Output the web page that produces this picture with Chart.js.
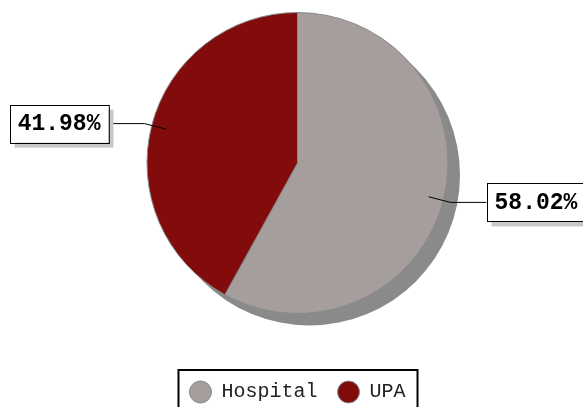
<!DOCTYPE html>
<html>
<head>
<meta charset="utf-8">
<script src="https://cdn.jsdelivr.net/npm/chart.js@4/dist/chart.umd.min.js"></script>
<style>
html, body { margin: 0; padding: 0; background: #fff; }
</style>
</head>
<body>
<canvas id="pie" width="583" height="407"></canvas>
<script>
var labels = ["Hospital", "UPA"];
var values = [58.02, 41.98];
var colors = ["#a59e9d", "#820b0b"];

var monoFont = "'Liberation Mono', 'Courier New', monospace";

// grey disc behind the pie, offset down-right
var pieShadow = {
  id: 'pieShadow',
  beforeDatasetsDraw: function(chart) {
    var arc = chart.getDatasetMeta(0).data[0];
    if (!arc) return;
    var ctx = chart.ctx;
    ctx.save();
    ctx.fillStyle = '#8a8a8a';
    ctx.beginPath();
    ctx.arc(arc.x + 12, arc.y + 12, arc.outerRadius, 0, Math.PI * 2);
    ctx.fill();
    ctx.restore();
  }
};

// percentage boxes with leader lines
var callouts = {
  id: 'callouts',
  afterDatasetsDraw: function(chart) {
    var ctx = chart.ctx;
    var meta = chart.getDatasetMeta(0);
    ctx.save();
    ctx.font = 'bold 23px ' + monoFont;
    ctx.textBaseline = 'middle';
    meta.data.forEach(function(arc, i) {
      var mid = (arc.startAngle + arc.endAngle) / 2;
      var r = arc.outerRadius;
      var x0 = arc.x + Math.cos(mid) * r * 0.9;
      var y0 = arc.y + Math.sin(mid) * r * 0.9;
      var x1 = arc.x + Math.cos(mid) * r * 1.05;
      var y1 = arc.y + Math.sin(mid) * r * 1.05;
      var right = Math.cos(mid) >= 0;
      var x2 = right ? x1 + 36 : x1 - 36;

      ctx.strokeStyle = '#000';
      ctx.lineWidth = 1;
      ctx.beginPath();
      ctx.moveTo(x0, y0);
      ctx.lineTo(x1, y1);
      ctx.lineTo(x2, y1);
      ctx.stroke();

      var text = values[i].toFixed(2) + '%';
      var w = ctx.measureText(text).width + 16;
      var h = 38;
      var bx = right ? x2 : x2 - w;
      var by = y1 - h / 2;

      ctx.fillStyle = '#c8c8c8';
      ctx.fillRect(bx + 5, by + 5, w, h);
      ctx.fillStyle = '#fff';
      ctx.fillRect(bx, by, w, h);
      ctx.strokeRect(Math.round(bx) + 0.5, Math.round(by) + 0.5, w, h);

      ctx.fillStyle = '#000';
      ctx.textAlign = 'center';
      ctx.fillText(text, bx + w / 2, y1 + 1);
    });
    ctx.restore();
  }
};

// frame round the legend items
var legendFrame = {
  id: 'legendFrame',
  afterDraw: function(chart) {
    var boxes = chart.legend && chart.legend.legendHitBoxes;
    if (!boxes || !boxes.length) return;
    var first = boxes[0], last = boxes[boxes.length - 1];
    var left = first.left - 11;
    var right = last.left + last.width + 12;
    var top = first.top - 12;
    var ctx = chart.ctx;
    ctx.save();
    ctx.strokeStyle = '#000';
    ctx.lineWidth = 2;
    ctx.strokeRect(left, top, right - left, 60);
    ctx.restore();
  }
};

var data = {
  labels: labels,
  datasets: [{
    data: values,
    backgroundColor: colors,
    borderColor: '#8a8a8a',
    borderWidth: 1
  }]
};

var myPieChart = new Chart(document.getElementById('pie').getContext('2d'), {
  type: 'pie',
  data: data,
  plugins: [pieShadow, callouts, legendFrame],
  options: {
    responsive: false,
    devicePixelRatio: 1,
    animation: false,
    layout: {
      padding: { top: 12, left: 12, right: 0, bottom: -5 }
    },
    plugins: {
      tooltip: { enabled: false },
      legend: {
        display: true,
        position: 'bottom',
        title: {
          display: true,
          text: '',
          font: { size: 10, lineHeight: 1 },
          padding: { top: 38, bottom: 0 }
        },
        labels: {
          usePointStyle: true,
          pointStyle: 'circle',
          pointStyleWidth: 22,
          boxHeight: 15.5,
          padding: 20,
          color: '#222',
          font: { family: monoFont, size: 20 }
        }
      }
    }
  }
});
</script>
</body>
</html>
